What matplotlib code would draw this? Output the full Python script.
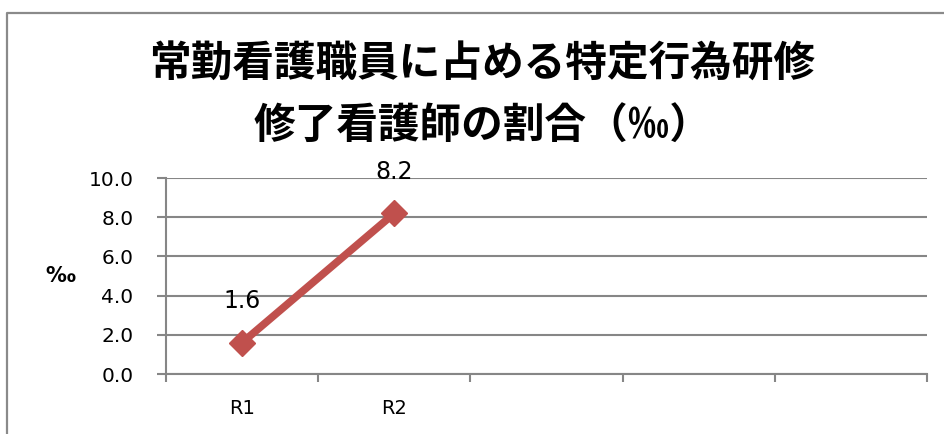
import matplotlib.pyplot as plt
from matplotlib.lines import Line2D
from matplotlib.ticker import FixedLocator, FormatStrFormatter

categories = ['R1', 'R2', '', '', '']
values = [1.6, 8.2]
title_line1 = '常勤看護職員に占める特定行為研修'
title_line2 = '修了看護師の割合（‰）'
y_label = '‰'
y_ticks = [0, 2, 4, 6, 8, 10]

plt.rcParams['font.family'] = ['DejaVu Sans']
jp_font = ['Noto Sans CJK JP', 'DejaVu Sans']

line_color = '#C0504D'
grid_color = '#868686'

fig = plt.figure(figsize=(9.45, 4.34), dpi=100)
ax = fig.add_axes([166 / 945, 60 / 434, 761 / 945, 196 / 434])

x = list(range(len(values)))
ax.plot(x, values, color=line_color, lw=5.5, marker='D', markersize=13,
        markerfacecolor=line_color, markeredgecolor=line_color, zorder=3)
for xi, v in zip(x, values):
    ax.annotate('{:.1f}'.format(v), (xi, v), xytext=(0, 30), textcoords='offset points',
                ha='center', va='center', fontsize=17, color='black')

ax.set_xlim(-0.5, len(categories) - 0.5)
ax.set_ylim(0, 10)
ax.set_yticks(y_ticks)
ax.yaxis.set_major_formatter(FormatStrFormatter('%.1f'))
ax.set_xticks(range(len(categories)))
ax.set_xticklabels(categories)
ax.xaxis.set_minor_locator(FixedLocator([i - 0.5 for i in range(len(categories) + 1)]))

ax.tick_params(axis='x', which='major', length=0, pad=18, labelsize=14)
ax.tick_params(axis='x', which='minor', length=6, width=1.5, color=grid_color, direction='out')
ax.tick_params(axis='y', length=6.5, width=1.5, color=grid_color, pad=17, labelsize=14.5)

ax.grid(axis='y', color=grid_color, lw=1.5)
ax.set_axisbelow(True)
for side in ['top', 'right']:
    ax.spines[side].set_visible(False)
for side in ['left', 'bottom']:
    ax.spines[side].set_color(grid_color)
    ax.spines[side].set_linewidth(1.5)

ax.set_ylabel(y_label, rotation=0, fontsize=15, fontweight='bold', ha='center', va='center')
ax.yaxis.set_label_coords((60 - 166) / 761, 0.5)

fig.text(482 / 945, 1 - 65 / 434, title_line1, family=jp_font, fontweight='bold',
         fontsize=30, ha='center', va='center')
fig.text(482 / 945, 1 - 127 / 434, title_line2, family=jp_font, fontweight='bold',
         fontsize=30, ha='center', va='center')

# chart frame (only top and left edges visible in the crop)
fx = 7.5 / 945
fy = 1 - 13 / 434
fig.add_artist(Line2D([fx, fx, 1], [0, fy, fy], transform=fig.transFigure,
                      color='#8a8a8a', lw=1.6))

fig.savefig('out.png', dpi=100)
